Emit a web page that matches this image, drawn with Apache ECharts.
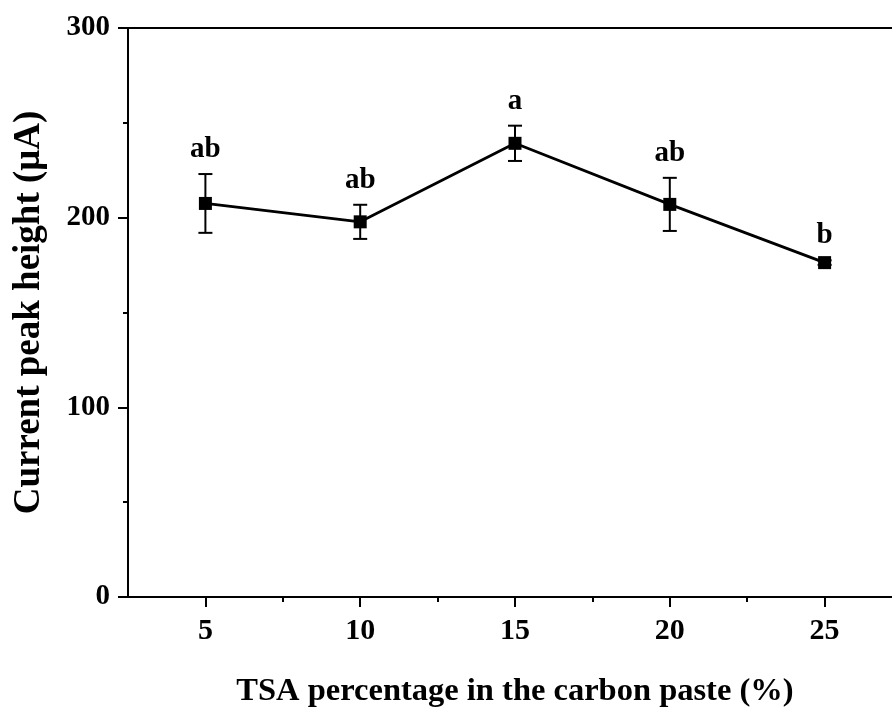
<!DOCTYPE html>
<html><head><meta charset="utf-8">
<script src="https://cdn.jsdelivr.net/npm/echarts@6/dist/echarts.min.js"></script>
<style>html,body{margin:0;padding:0;background:#fff}#c{width:892px;height:709px}</style>
</head><body><div id="c"></div>
<script>
const xValues = [5, 10, 15, 20, 25];
const yMeans = [207.5, 197.8, 239.2, 207.0, 176.3];
const yErrs = [15.5, 9.0, 9.3, 14.0, 1.2];
const letters = ['ab', 'ab', 'a', 'ab', 'b'];
const xTickLabels = [5, 10, 15, 20, 25];
const xMinorTicks = [7.5, 12.5, 17.5, 22.5];

const FONT = '"Liberation Serif", "Times New Roman", serif';
const chart = echarts.init(document.getElementById('c'));

const lineData = xValues.map((x, i) => [x, yMeans[i]]);
const errData = xValues.map((x, i) => [x, yMeans[i] - yErrs[i], yMeans[i] + yErrs[i], i]);

chart.setOption({
  animation: false,
  backgroundColor: '#fff',
  grid: { left: 128, top: 28, bottom: 112, right: -10, containLabel: false, outerBoundsMode: 'none' },
  xAxis: [
    {
      type: 'value', min: 2.5, max: 27.5, position: 'bottom',
      name: 'TSA percentage in the carbon paste (%)', nameLocation: 'middle', nameGap: 78,
      nameTextStyle: { fontFamily: FONT, fontWeight: 'bold', fontSize: 32.5, color: '#000' },
      axisLine: { show: true, lineStyle: { color: '#000', width: 2 } },
      axisTick: { show: true, length: 10, lineStyle: { color: '#000', width: 2 }, customValues: xTickLabels },
      axisLabel: { fontFamily: FONT, fontWeight: 'bold', fontSize: 30, color: '#000', margin: 19, customValues: xTickLabels },
      splitLine: { show: false }
    },
    {
      type: 'value', min: 2.5, max: 27.5, position: 'bottom',
      axisLine: { show: false },
      axisTick: { show: true, length: 5, lineStyle: { color: '#000', width: 2 }, customValues: xMinorTicks },
      axisLabel: { show: false },
      splitLine: { show: false }
    },
    {
      type: 'value', min: 2.5, max: 27.5, position: 'top',
      axisLine: { show: true, lineStyle: { color: '#000', width: 2 } },
      axisTick: { show: false }, axisLabel: { show: false }, splitLine: { show: false }
    }
  ],
  yAxis: [
    {
      type: 'value', min: 0, max: 300, interval: 100, position: 'left',
      name: 'Current peak height (μA)', nameLocation: 'middle', nameGap: 80, nameRotate: 90,
      nameTextStyle: { fontFamily: FONT, fontWeight: 'bold', fontSize: 37, color: '#000' },
      axisLine: { show: true, lineStyle: { color: '#000', width: 2 } },
      axisTick: { show: true, length: 10, lineStyle: { color: '#000', width: 2 } },
      minorTick: { show: true, splitNumber: 2, length: 5, lineStyle: { color: '#000', width: 2 } },
      axisLabel: { fontFamily: FONT, fontWeight: 'bold', fontSize: 29, color: '#000', margin: 18 },
      splitLine: { show: false }, minorSplitLine: { show: false }
    },
    {
      type: 'value', min: 0, max: 300, position: 'right',
      axisLine: { show: true, lineStyle: { color: '#000', width: 2 } },
      axisTick: { show: false }, axisLabel: { show: false }, splitLine: { show: false }
    }
  ],
  series: [
    {
      type: 'custom', xAxisIndex: 0, yAxisIndex: 0, z: 3,
      data: errData,
      renderItem: function (params, api) {
        const x = api.value(0);
        const lo = api.coord([x, api.value(1)]);
        const hi = api.coord([x, api.value(2)]);
        const idx = api.value(3);
        const cw = 7;
        const st = { stroke: '#000', lineWidth: 2 };
        return {
          type: 'group',
          children: [
            { type: 'line', shape: { x1: lo[0], y1: lo[1], x2: hi[0], y2: hi[1] }, style: st },
            { type: 'line', shape: { x1: hi[0] - cw, y1: hi[1], x2: hi[0] + cw, y2: hi[1] }, style: st },
            { type: 'line', shape: { x1: lo[0] - cw, y1: lo[1], x2: lo[0] + cw, y2: lo[1] }, style: st },
            { type: 'text', x: hi[0], y: hi[1] - 10,
              style: { text: letters[idx], fill: '#000', fontFamily: FONT, fontWeight: 'bold', fontSize: 29,
                       textAlign: 'center', textVerticalAlign: 'bottom' } }
          ]
        };
      }
    },
    {
      type: 'line', xAxisIndex: 0, yAxisIndex: 0, z: 4,
      data: lineData,
      symbol: 'rect', symbolSize: 13,
      lineStyle: { color: '#000', width: 2.8 },
      itemStyle: { color: '#000' }
    }
  ]
});
</script></body></html>
